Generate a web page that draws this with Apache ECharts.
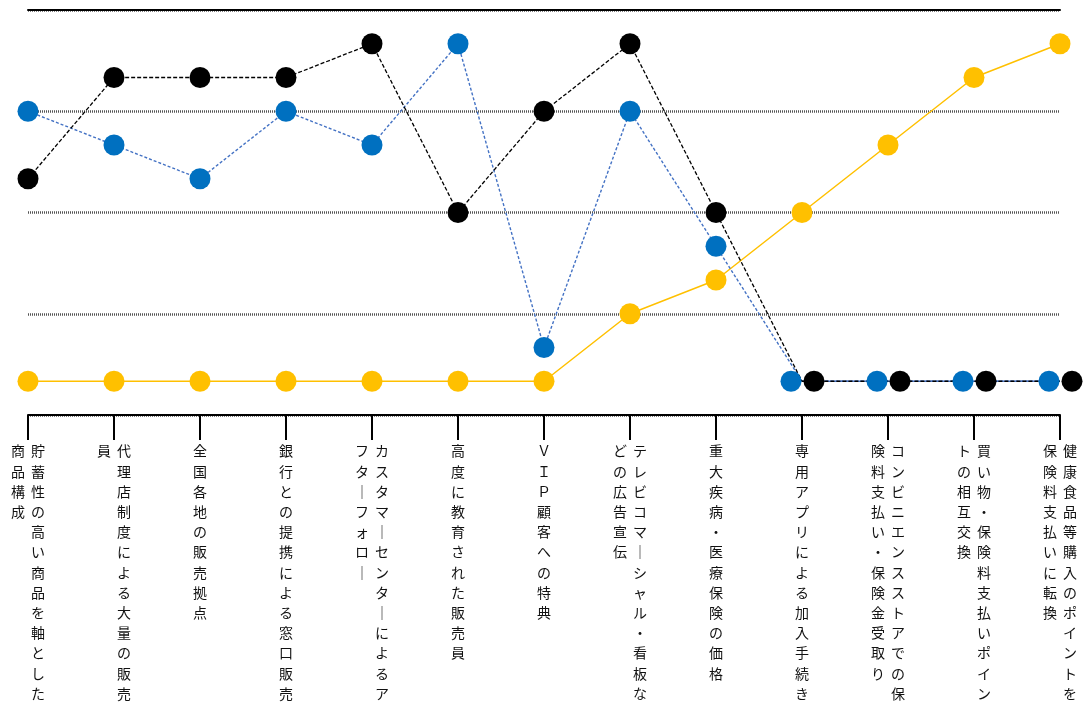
<!DOCTYPE html>
<html>
<head>
<meta charset="utf-8">
<script src="https://cdn.jsdelivr.net/npm/echarts@6/dist/echarts.min.js"></script>
<style>
  html, body { margin: 0; padding: 0; background: #fff; }
  #chart { width: 1083px; height: 703px; }
</style>
</head>
<body>
<div id="chart"></div>
<script>
// カテゴリ（縦書きで表示）
var categories = [
  "貯蓄性の高い商品を軸とした商品構成",
  "代理店制度による大量の販売員",
  "全国各地の販売拠点",
  "銀行との提携による窓口販売",
  "カスタマーセンターによるアフターフォロー",
  "高度に教育された販売員",
  "ＶＩＰ顧客への特典",
  "テレビコマーシャル・看板などの広告宣伝",
  "重大疾病・医療保険の価格",
  "専用アプリによる加入手続き",
  "コンビニエンスストアでの保険料支払い・保険金受取り",
  "買い物・保険料支払いポイントの相互交換",
  "健康食品等購入のポイントを保険料支払いに転換"
];
var blackValues = [7, 10, 10, 10, 11, 6, 9, 11, 6, 1, 1, 1, 1];
var blueValues = [9, 8, 7, 9, 8, 11, 2, 9, 5, 1, 1, 1, 1];
var yellowValues = [1, 1, 1, 1, 1, 1, 1, 3, 4, 6, 8, 10, 11];
var yMin = 0, yMax = 12, yStep = 3;

var COL_LEN = 13;
var FONT = '"Noto Sans CJK JP", "Noto Sans", sans-serif';

// 縦書き風：13文字ごとに列を作り、右から左へ並べる
function verticalLabel(text) {
  var chars = Array.from(text).map(function (c) { return c === "ー" ? "｜" : c; });
  var cols = [];
  for (var i = 0; i < chars.length; i += COL_LEN) cols.push(chars.slice(i, i + COL_LEN));
  var rowCount = cols[0].length;
  cols.reverse();
  var rows = [];
  for (var r = 0; r < rowCount; r++) {
    rows.push(cols.map(function (col) { return "{c|" + (col[r] || "　") + "}"; }).join(""));
  }
  return rows.join("\n");
}

// 黒と青が同じ値のときは横にずらして両方見えるようにする
function withShift(values, shiftPx) {
  return values.map(function (v, i) {
    if (blackValues[i] === blueValues[i]) return { value: v, symbolOffset: [shiftPx, 0] };
    return v;
  });
}

var blueTail = blueValues.map(function (v, i) {
  return blackValues[i] === blueValues[i] ? v : null;
});

var chart = echarts.init(document.getElementById("chart"));
var option = {
  animation: false,
  grid: { left: 28, right: 20, top: 10, bottom: 288 },
  xAxis: [
    {
      type: "category",
      data: categories,
      boundaryGap: false,
      axisLine: { lineStyle: { color: "#000", width: 2 } },
      axisTick: { length: 25, lineStyle: { color: "#000", width: 2 } },
      axisLabel: {
        interval: 0,
        margin: 26,
        verticalAlign: "top",
        formatter: verticalLabel,
        rich: {
          c: { width: 20, align: "center", fontSize: 14, lineHeight: 20.2, color: "#111", fontFamily: FONT }
        }
      }
    },
    {
      type: "category",
      data: categories,
      position: "top",
      boundaryGap: false,
      axisLine: { lineStyle: { color: "#000", width: 2 } },
      axisTick: { show: false },
      axisLabel: { show: false }
    }
  ],
  yAxis: {
    type: "value",
    min: yMin,
    max: yMax,
    interval: yStep,
    axisLine: { show: false },
    axisTick: { show: false },
    axisLabel: { show: false },
    splitLine: { lineStyle: { color: "#555", width: 2.5, type: [1, 1] } }
  },
  series: [
    {
      type: "line",
      data: yellowValues,
      symbol: "circle",
      symbolSize: 21,
      itemStyle: { color: "#FFC000" },
      lineStyle: { color: "#FFC000", width: 1.5 }
    },
    {
      type: "line",
      data: withShift(blueValues, -11),
      symbol: "circle",
      symbolSize: 21,
      itemStyle: { color: "#0070C0" },
      lineStyle: { color: "#4472C4", width: 1.4, type: [3, 2] }
    },
    {
      type: "line",
      data: blueTail,
      symbol: "none",
      lineStyle: { color: "#4472C4", width: 1.5 },
      z: 1
    },
    {
      type: "line",
      data: withShift(blackValues, 12),
      symbol: "circle",
      symbolSize: 21,
      itemStyle: { color: "#000" },
      lineStyle: { color: "#000", width: 1.3, type: [4, 2] }
    }
  ]
};
chart.setOption(option);
</script>
</body>
</html>
